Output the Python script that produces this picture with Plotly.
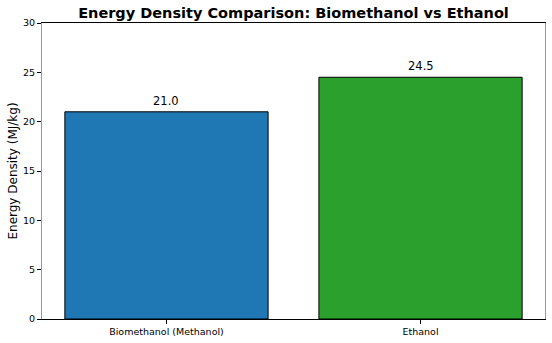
import plotly.graph_objects as go

categories = ["Biomethanol (Methanol)", "Ethanol"]
values = [21.0, 24.5]
colors = ["#1f77b4", "#2ca02c"]
y_ticks = [0, 5, 10, 15, 20, 25, 30]

fig = go.Figure()
fig.add_trace(go.Bar(
    x=[0, 1], y=values, width=0.8,
    marker=dict(color=colors, line=dict(color="black", width=1)),
    hoverinfo="skip",
))
for i, v in enumerate(values):
    fig.add_annotation(x=i, y=v, text=f"{v:.1f}", showarrow=False,
                       yanchor="bottom", yshift=2,
                       font=dict(family="DejaVu Sans", size=11.5, color="black"))

fig.update_layout(
    width=552, height=343,
    margin=dict(l=42, r=7, t=23, b=24),
    paper_bgcolor="white", plot_bgcolor="white",
    showlegend=False,
    font=dict(family="DejaVu Sans", color="black"),
    title=dict(text="<b>Energy Density Comparison: Biomethanol vs Ethanol</b>",
               x=293.5 / 552, xanchor="center", y=1 - 13 / 343, yanchor="middle",
               font=dict(family="DejaVu Sans", size=14.5, color="black")),
    xaxis=dict(range=[-0.49, 1.49], tickvals=[0, 1], ticktext=categories,
               showgrid=False, zeroline=False, showline=True, linecolor="black",
               linewidth=1, mirror=True, ticks="outside", ticklen=4, tickcolor="black",
               tickfont=dict(size=9.5, family="DejaVu Sans", color="black")),
    yaxis=dict(range=[0, 30], tickvals=y_ticks,
               showgrid=False, zeroline=False, showline=True, linecolor="#999999",
               linewidth=1, mirror=True, ticks="outside", ticklen=4, tickcolor="black",
               tickfont=dict(size=9.5, family="DejaVu Sans", color="black"),
               title=dict(text="Energy Density (MJ/kg)", standoff=2,
                          font=dict(size=12, family="DejaVu Sans", color="black"))),
)
fig.write_html("out.html")
